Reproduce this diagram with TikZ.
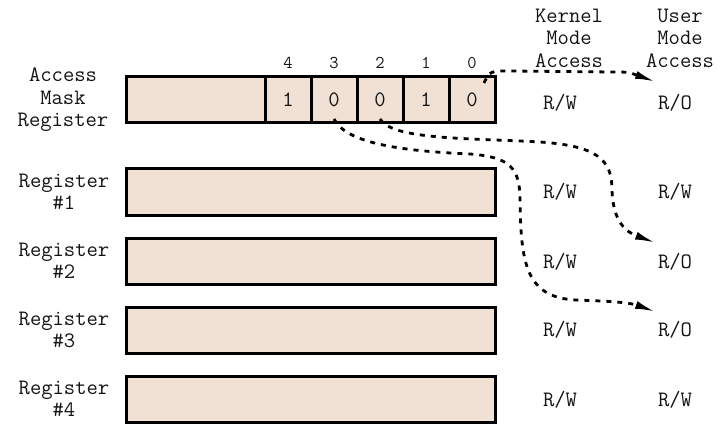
\documentclass[tikz,border=0pt]{standalone}
\usepackage{fontspec}
\usetikzlibrary{arrows.meta}
\definecolor{regfill}{RGB}{241,225,213}
\definecolor{ink}{RGB}{20,20,20}
\begin{document}
\begin{tikzpicture}[x=1pt,y=-1pt,
  every node/.style={font=\ttfamily\fontsize{22}{22.5}\selectfont, text=ink, inner sep=0pt},
  regbox/.style={draw=black, line width=3pt, fill=regfill, minimum height=46pt, anchor=center},
  cell/.style={regbox, minimum width=46pt},
  lbl/.style={align=center},
  bitno/.style={font=\ttfamily\fontsize{18}{18}\selectfont},
  flow/.style={line width=2.8pt, dash pattern=on 5pt off 6pt, -{Latex[length=21pt,width=8pt]}}
]
\useasboundingbox (0,0) rectangle (723,425);

% access mask register: unused high part and five bit cells
\node[regbox, minimum width=139pt] (amrhi) at (195.5,100) {};
\node[cell] (b4) at (288,100) {1};
\node[cell] (b3) at (334,100) {0};
\node[cell] (b2) at (380,100) {0};
\node[cell] (b1) at (426,100) {1};
\node[cell] (b0) at (472,100) {0};

% bit numbers
\node[bitno] (n4) at (288,63) {4};
\node[bitno] (n3) at (334,63) {3};
\node[bitno] (n2) at (380,63) {2};
\node[bitno] (n1) at (426,63) {1};
\node[bitno] (n0) at (472,63) {0};

% general registers
\node[regbox, minimum width=369pt] (r1) at (310.5,192) {};
\node[regbox, minimum width=369pt] (r2) at (310.5,261) {};
\node[regbox, minimum width=369pt] (r3) at (310.5,330) {};
\node[regbox, minimum width=369pt] (r4) at (310.5,399) {};

% register names
\node[lbl] (lamr) at (63,100) {Access\\Mask\\Register};
\node[lbl] (l1) at (64,192) {Register\\\#1};
\node[lbl] (l2) at (64,261) {Register\\\#2};
\node[lbl] (l3) at (64,330) {Register\\\#3};
\node[lbl] (l4) at (64,399) {Register\\\#4};

% column headings
\node[lbl] (hk) at (569,38) {Kernel\\Mode\\Access};
\node[lbl] (hu) at (680,38) {User\\Mode\\Access};

% access rights per register
\node (k0) at (560,103) {R/W};  \node (u0) at (675,103) {R/O};
\node (k1) at (560,192) {R/W};  \node (u1) at (675,192) {R/W};
\node (k2) at (560,262) {R/W};  \node (u2) at (675,262) {R/O};
\node (k3) at (560,330) {R/W};  \node (u3) at (675,330) {R/O};
\node (k4) at (560,400) {R/W};  \node (u4) at (675,400) {R/W};

% start and end points of the mask-bit connectors
\coordinate (s0) at (484,83);
\coordinate (t0) at (656,82);
\coordinate (s2) at (380,119);
\coordinate (t2) at (656,243);
\coordinate (s3) at (334,119);
\coordinate (t3) at (656,312);

% bit 0 -> access mask register user access
\draw[flow] (s0) .. controls (490,71) .. (510,71) -- (612,72)
  .. controls (628,72) .. (t0);
% bit 2 -> register #2 user access
\draw[flow] (s2) .. controls (392,140) and (470,138) .. (540,142)
  .. controls (598,146) and (612,160) .. (612,190)
  .. controls (613,222) and (626,232) .. (t2);
% bit 3 -> register #3 user access
\draw[flow] (s3) .. controls (346,143) and (400,151) .. (470,154)
  .. controls (510,157) and (520,168) .. (520,200)
  .. controls (521,262) and (525,297) .. (575,300)
  .. controls (605,301) and (628,302) .. (t3);
\end{tikzpicture}
\end{document}
